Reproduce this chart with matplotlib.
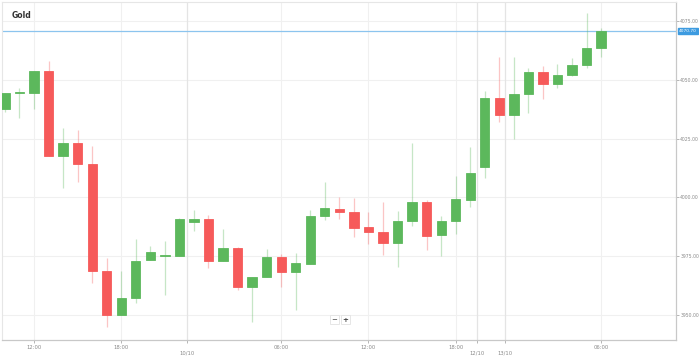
import numpy as np
import matplotlib
matplotlib.use("Agg")
import matplotlib.pyplot as plt

# Hourly gold candles (open, high, low, close)
opens = [4037.5, 4044.3, 4044.3, 4053.7, 4017.5, 4023.0, 4014.1, 3968.5, 3949.8, 3957.0,
         3973.2, 3974.9, 3974.9, 3989.4, 3990.7, 3972.8, 3978.3, 3961.7, 3966.0, 3974.5,
         3968.1, 3971.5, 3992.0, 3995.0, 3993.7, 3987.3, 3985.1, 3980.4, 3989.8, 3997.9,
         3983.8, 3989.8, 3998.8, 4012.8, 4042.2, 4035.0, 4043.9, 4053.3, 4048.2, 4052.0,
         4056.3, 4063.5]
highs = [4044.3, 4046.5, 4053.7, 4058.0, 4029.4, 4028.6, 4021.8, 3974.1, 3968.5, 3982.1,
         3979.2, 3981.3, 3991.2, 3994.5, 3992.4, 3986.4, 3978.7, 3966.0, 3977.9, 3975.8,
         3976.2, 3994.5, 4006.4, 4000.0, 3999.6, 3993.7, 3997.9, 3994.1, 4023.0, 3998.8,
         3992.0, 4009.0, 4021.3, 4045.2, 4059.7, 4059.7, 4055.0, 4055.8, 4056.7, 4059.2,
         4078.4, 4072.0]
lows = [4036.2, 4033.7, 4037.5, 4017.5, 4003.9, 4006.4, 3963.8, 3944.7, 3949.8, 3954.9,
        3973.2, 3958.7, 3974.9, 3985.6, 3969.8, 3972.8, 3960.8, 3946.8, 3966.0, 3962.1,
        3952.3, 3971.5, 3990.2, 3990.7, 3983.0, 3980.0, 3975.3, 3970.2, 3987.7, 3977.5,
        3974.9, 3984.3, 3995.8, 4008.1, 4032.0, 4024.7, 4035.8, 4041.8, 4046.5, 4051.6,
        4055.0, 4059.7]
closes = [4044.3, 4044.5, 4053.7, 4017.5, 4023.0, 4014.1, 3968.5, 3949.8, 3957.0, 3972.8,
          3976.6, 3975.1, 3990.7, 3990.7, 3972.8, 3978.3, 3961.7, 3966.0, 3974.5, 3968.1,
          3971.9, 3992.0, 3995.4, 3993.7, 3986.8, 3985.1, 3980.4, 3989.8, 3997.9, 3983.4,
          3989.8, 3999.2, 4010.3, 4042.2, 4035.0, 4043.9, 4053.3, 4048.2, 4052.0, 4056.3,
          4063.5, 4070.7]

last_price = 4070.7
price_ticks = [3950, 3975, 4000, 4025, 4050, 4075]
hour_pos = [2, 8, 19, 25, 31, 41]
hour_labels = ["12:00", "18:00", "06:00", "12:00", "18:00", "06:00"]
day_pos = [12.52, 32.47, 34.39]
day_labels = ["10/10", "12/10", "13/10"]

GREEN = "#5cb85c"
RED = "#f65a5a"
GRID = "#f0f0f0"
TXT = "#8a8a8a"

fig = plt.figure(figsize=(6.99, 3.58), dpi=100)
ax = fig.add_axes([2 / 699, 18 / 358, 674 / 699, 338 / 358])

o = np.array(opens)
c = np.array(closes)
x = np.arange(len(o))
up = c >= o
cols = np.where(up, GREEN, RED)

# grid
for p in price_ticks:
    ax.axhline(p, color=GRID, lw=0.8, zorder=0)
for p in hour_pos:
    ax.axvline(p, color=GRID, lw=0.8, zorder=0)
for p in day_pos:
    ax.axvline(p, color="#e4e4e4", lw=0.9, zorder=0)

# candles
ax.vlines(x, lows, highs, colors=cols, lw=0.9, alpha=0.35, zorder=2)
body_lo = np.minimum(o, c)
body_h = np.maximum(np.abs(c - o), 0.6)
ax.bar(x, body_h, bottom=body_lo, width=0.64, color=cols, edgecolor=cols,
       linewidth=0.6, zorder=3)

# last price line
ax.axhline(last_price, color="#8cc4ee", lw=0.9, zorder=1)

ax.set_xlim(-0.2, 46.15)
ax.set_ylim(3939.35, 4083.1)

ax.yaxis.tick_right()
ax.set_yticks(price_ticks)
ax.set_yticklabels([f"{p:.2f}" for p in price_ticks])
ax.set_xticks(hour_pos + day_pos)
ax.set_xticklabels(hour_labels + ["\n" + d for d in day_labels])
ax.tick_params(axis="both", labelsize=3.8, colors="#aaaaaa", labelcolor=TXT,
               length=2, width=0.6, pad=1.5)
ax.tick_params(axis="y", labelsize=3.3, pad=1)

for side in ["top", "left"]:
    ax.spines[side].set_color("#e6e6e6")
    ax.spines[side].set_linewidth(0.8)
for side in ["bottom", "right"]:
    ax.spines[side].set_color("#c8c8c8")
    ax.spines[side].set_linewidth(0.9)

ax.text(0.014, 0.972, "Gold", transform=ax.transAxes, fontsize=5.5,
        fontweight="bold", color="#333333", va="top", ha="left")

# last price tag
ax.annotate(f"{last_price:.2f}", xy=(1.0, last_price), xycoords=("axes fraction", "data"),
            xytext=(2.0, 0), textcoords="offset points", fontsize=3.2, color="white",
            va="center", ha="left",
            bbox=dict(boxstyle="square,pad=0.2", fc="#3d9be0", ec="#3d9be0"))

# zoom buttons
ax.text(0.4935, 0.06, "\u2212", transform=ax.transAxes, fontsize=5, color="#444444",
        ha="center", va="center",
        bbox=dict(boxstyle="square,pad=0.2", fc="white", ec="#e2e2e2", lw=0.6))
ax.text(0.5095, 0.06, "+", transform=ax.transAxes, fontsize=5, color="#444444",
        fontweight="bold", ha="center", va="center",
        bbox=dict(boxstyle="square,pad=0.2", fc="white", ec="#e2e2e2", lw=0.6))

fig.savefig("out.png", dpi=100)
